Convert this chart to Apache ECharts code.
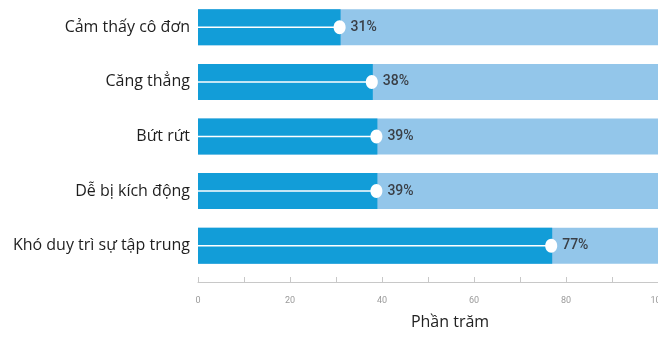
<!DOCTYPE html>
<html>
<head>
<meta charset="utf-8">
<script src="https://cdn.jsdelivr.net/npm/echarts@6/dist/echarts.min.js"></script>
<style>
  html, body { margin: 0; padding: 0; background: #fff; }
  #main { width: 658px; height: 341px; }
</style>
</head>
<body>
<div id="main"></div>
<script>
// dữ liệu
var categories = ['Cảm thấy cô đơn', 'Căng thẳng', 'Bứt rứt', 'Dễ bị kích động', 'Khó duy trì sự tập trung'];
var values = [31, 38, 39, 39, 77];
var tickLabels = ['0', '20', '40', '60', '80', '100'];

var chart = echarts.init(document.getElementById('main'));

var option = {
    animation: false,
    grid: {
        left: 198,
        right: 0,
        top: 0,
        height: 273,
        containLabel: false,
        outerBoundsMode: 'none'
    },
    xAxis: {
        type: 'value',
        min: 0,
        max: 100,
        interval: 10,
        offset: 9,
        name: 'Phần trăm',
        nameLocation: 'middle',
        nameGap: 32,
        nameTextStyle: {
            fontFamily: 'Open Sans',
            fontSize: 16,
            color: '#222',
            padding: [0, 0, 0, 44]
        },
        axisLine: { show: true, lineStyle: { color: '#c8c8c8', width: 1 } },
        axisTick: { show: true, inside: true, length: 5, lineStyle: { color: '#c8c8c8' } },
        splitLine: { show: false },
        axisLabel: {
            color: '#9a9a9a',
            fontSize: 9,
            fontFamily: 'Roboto',
            margin: 14,
            formatter: function (v) {
                var s = String(v);
                return tickLabels.indexOf(s) >= 0 ? s : '';
            }
        }
    },
    yAxis: {
        type: 'category',
        data: categories,
        inverse: true,
        axisLine: { show: false },
        axisTick: { show: false },
        axisLabel: {
            color: '#1e1e1e',
            fontSize: 16,
            fontFamily: 'Open Sans',
            margin: 8
        }
    },
    series: [
        {
            type: 'bar',
            data: values,
            barWidth: 36,
            z: 2,
            itemStyle: { color: '#129dd8' },
            showBackground: true,
            backgroundStyle: { color: '#93c6ea' },
            label: {
                show: true,
                position: 'right',
                distance: 10,
                formatter: '{c}%',
                color: '#3a3f46',
                fontSize: 14,
                fontFamily: 'Roboto',
                fontWeight: 500
            }
        },
        {
            // đường trắng + chấm tròn
            type: 'custom',
            z: 5,
            data: values.map(function (v, i) { return [v, i]; }),
            encode: { x: 0, y: 1 },
            renderItem: function (params, api) {
                var end = api.coord([api.value(0), api.value(1)]);
                var start = api.coord([0, api.value(1)]);
                return {
                    type: 'group',
                    children: [
                        {
                            type: 'line',
                            shape: { x1: start[0], y1: start[1], x2: end[0], y2: end[1] },
                            style: { stroke: '#ffffff', lineWidth: 1.5 }
                        },
                        {
                            type: 'ellipse',
                            shape: { cx: end[0] - 1, cy: end[1], rx: 6, ry: 7 },
                            style: { fill: '#ffffff' }
                        }
                    ]
                };
            }
        }
    ]
};

chart.setOption(option);
</script>
</body>
</html>
